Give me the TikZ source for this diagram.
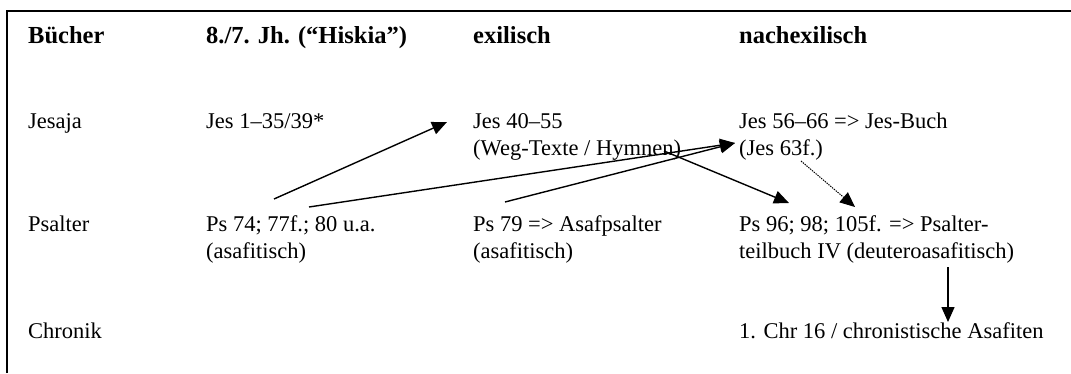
\documentclass[tikz,border=0pt]{standalone}
\usepackage{fontspec}
\setmainfont{Liberation Serif}
\usetikzlibrary{arrows.meta}

\begin{document}
\begin{tikzpicture}[x=1pt,y=-1pt,
    txt/.style={anchor=base west,inner sep=0pt,align=left,font=\fontsize{22.5}{27.5}\selectfont},
    head/.style={txt,font=\fontsize{24.5}{29}\selectfont\bfseries},
    pfeil/.style={line width=1.4pt,-{Triangle[length=15pt,width=13pt]}}]
            \useasboundingbox (0,0) rectangle (1071,373);
            % Rahmen
            \draw[line width=2.5pt] (7,373)--(7,11);
            \draw[line width=1.8pt] (6,11)--(1071,11);

            % Kopfzeile
            \node[head] (kBuch) at (28,43) {Bücher};
            \node[head] (kHisk) at (206,43) {8./7. Jh. (“Hiskia”)};
            \node[head] (kExil) at (473,43) {exilisch};
            \node[head] (kNach) at (739,43) {nachexilisch};

            % Jesaja (zweizeilige Knoten: Basislinie der letzten Zeile)
            \node[txt] (jes) at (28,128) {Jesaja};
            \node[txt] (jesHisk) at (206,128) {Jes 1–35/39*};
            \node[txt] (jesExil) at (473,155.5) {Jes 40–55\\(Weg-Texte / Hymnen)};
            \node[txt] (jesNach) at (739,155.5) {Jes 56–66 => Jes-Buch\\(Jes 63f.)};

            % Psalter
            \node[txt] (ps) at (28,231) {Psalter};
            \node[txt] (psHisk) at (206,258.5) {Ps 74; 77f.; 80 u.a.\\(asafitisch)};
            \node[txt] (psExil) at (473,258.5) {Ps 79 => Asafpsalter\\(asafitisch)};
            \node[txt] (psNach) at (739,258.5) {Ps 96; 98; 105f. => Psalter-\\teilbuch IV (deuteroasafitisch)};

            % Chronik
            \node[txt] (chr) at (28,338) {Chronik};
            \node[txt] (chrNach) at (739,338) {1. Chr 16 / chronistische Asafiten};

            % Pfeile
            \coordinate (a1) at (274,199);
            \coordinate (a2) at (447,122);
            \coordinate (b1) at (309,207);
            \coordinate (b2) at (735,143);
            \coordinate (c1) at (505,202);
            \coordinate (d1) at (664,151);
            \coordinate (d2) at (789,203);
            \coordinate (e1) at (801,161);
            \coordinate (e2) at (855,207);
            \coordinate (f1) at (948,267);
            \coordinate (f2) at (948,322);
            \draw[pfeil] (a1)--(a2);
            \draw[pfeil] (b1)--(b2);
            \draw[pfeil] (c1)--(b2);
            \draw[pfeil] (d1)--(d2);
            \draw[pfeil,densely dotted,line width=1pt] (e1)--(e2);
            \draw[pfeil] (f1)--(f2);
        \end{tikzpicture}
\end{document}
